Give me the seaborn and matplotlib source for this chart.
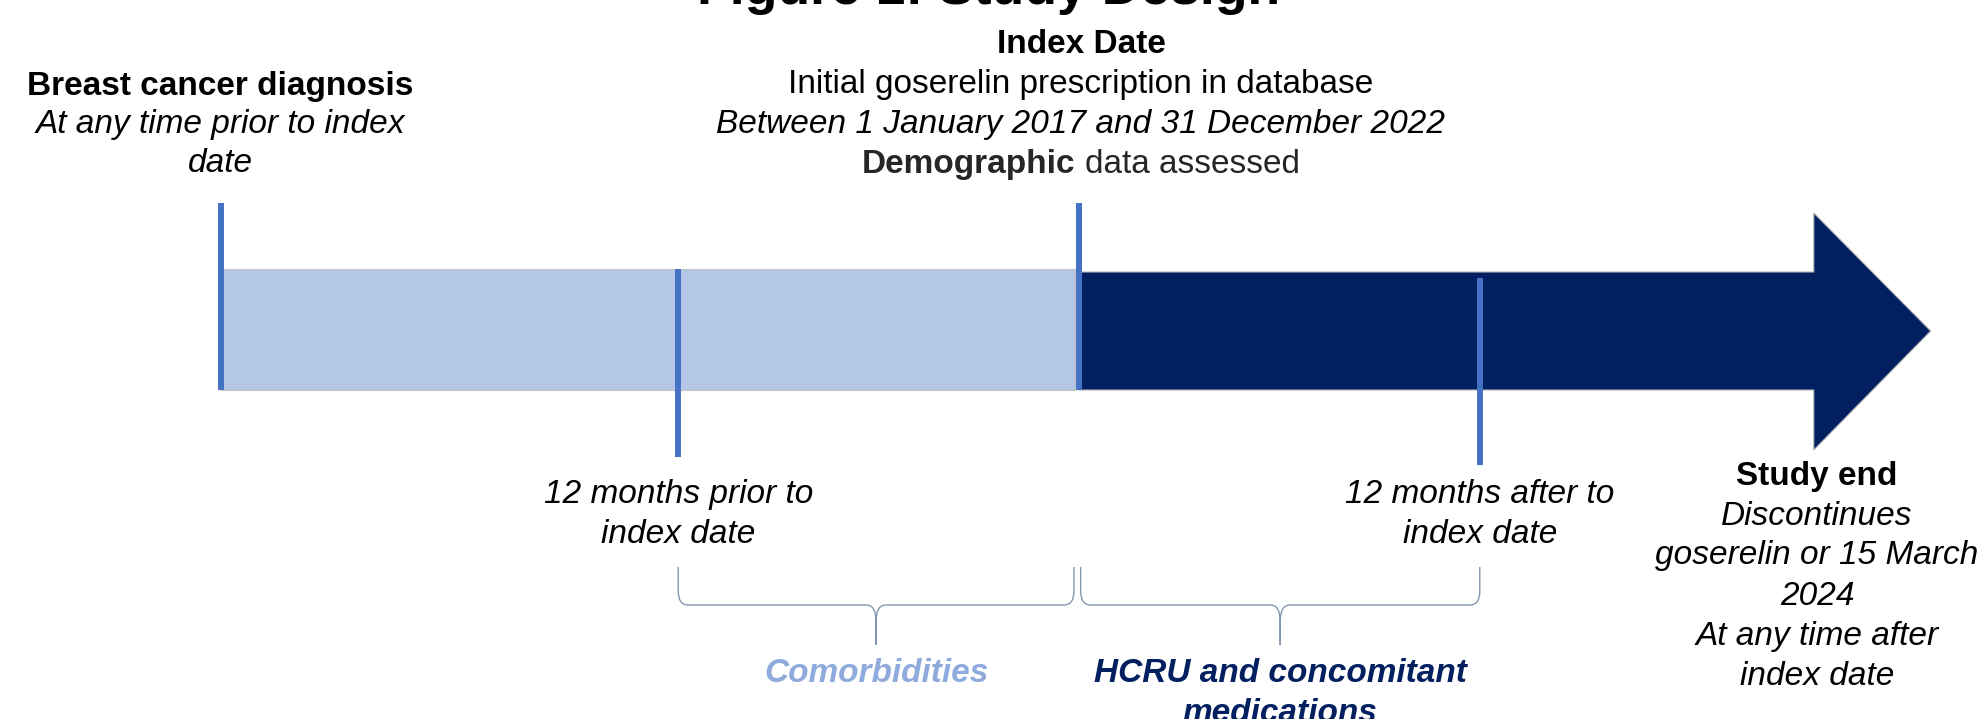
import matplotlib
matplotlib.use("Agg")
import matplotlib.pyplot as plt
import seaborn as sns
from matplotlib.path import Path
from matplotlib.patches import PathPatch, Polygon

# ---------------- data (timeline in months relative to the index date) -------------
event_labels = ["Breast cancer diagnosis", "12 months prior", "Index date", "12 months after"]
event_months = [-25.7, -12, 0, 12]
baseline_period = [-25.7, -0.12]       # light "look-back" bar
followup_start = 0
arrowhead_start = 22.0
arrow_tip = 25.5
study_end_month = 22.1
brace_starts = [-12, 0.05]
brace_ends = [-0.15, 12]
brace_titles = [["Comorbidities"], ["HCRU and concomitant", "medications"]]

title = "Figure 1: Study Design"
diag_lines = ["Breast cancer diagnosis", "At any time prior to index", "date"]
index_lines = ["Index Date", "Initial goserelin prescription in database",
               "Between 1 January 2017 and 31 December 2022"]
demo_bold, demo_rest = "Demographic", "data assessed"
prior_lines = ["12 months prior to", "index date"]
after_lines = ["12 months after to", "index date"]
end_lines = ["Study end", "Discontinues", "goserelin or 15 March", "2024",
             "At any time after", "index date"]

# ---------------- style ----------------
sns.set_theme(style="white")
plt.rcParams["font.family"] = ["Liberation Sans", "DejaVu Sans"]

LIGHT = "#b4c7e7"
DARK = "#022060"
MARK = "#4472c4"
BRACE = "#8497b0"
COMORB = "#8faadc"

W, H = 1978, 719
PX_PER_MONTH = 33.4
INDEX_PX = 1079

fig = plt.figure(figsize=(W / 100, H / 100), dpi=100)
ax = fig.add_axes([0, 0, 1, 1])
ax.set_xlim(-INDEX_PX / PX_PER_MONTH, (W - INDEX_PX) / PX_PER_MONTH)
ax.set_ylim(H, 0)
ax.axis("off")


def m(px):
    """layout helper: convert a horizontal pixel offset to months"""
    return px / PX_PER_MONTH


FS = 24

# light bar (baseline period)
bar_top, bar_bot = 269, 390
ax.barh([(bar_top + bar_bot) / 2], [baseline_period[1] - baseline_period[0]],
        left=baseline_period[0], height=bar_bot - bar_top, color=LIGHT,
        edgecolor="#c3c3c3", linewidth=0.8, zorder=1)

# dark arrow (follow-up period)
body_top, body_bot, head_top, head_bot = 272, 390, 213, 450
tip_y = 331
arrow = Polygon([(followup_start, body_top), (arrowhead_start, body_top),
                 (arrowhead_start, head_top), (arrow_tip, tip_y),
                 (arrowhead_start, head_bot), (arrowhead_start, body_bot),
                 (followup_start, body_bot)], closed=True, facecolor=DARK,
                edgecolor="#b5b5b5", linewidth=0.8, zorder=1)
ax.add_patch(arrow)

# event markers
marker_top = [203, 269, 203, 278]
marker_bot = [390, 457, 390, 465]
ax.vlines(event_months, marker_top, marker_bot, color=MARK, linewidth=4.3, zorder=3)

# braces
y_top, y_mid, y_tip = 567, 605, 645
r = m(10)
for x0, x1 in zip(brace_starts, brace_ends):
    xm = (x0 + x1) / 2
    verts = [(x0, y_top), (x0, y_mid - 14), (x0, y_mid), (x0 + r, y_mid),
             (xm - r, y_mid), (xm, y_mid), (xm, y_mid + 16), (xm, y_tip),
             (xm, y_mid + 16), (xm, y_mid), (xm + r, y_mid),
             (x1 - r, y_mid), (x1, y_mid), (x1, y_mid - 14), (x1, y_top)]
    codes = [Path.MOVETO, Path.LINETO, Path.CURVE3, Path.CURVE3,
             Path.LINETO, Path.CURVE3, Path.CURVE3, Path.LINETO,
             Path.LINETO, Path.CURVE3, Path.CURVE3,
             Path.LINETO, Path.CURVE3, Path.CURVE3, Path.LINETO]
    ax.add_patch(PathPatch(Path(verts, codes), facecolor="none",
                           edgecolor=BRACE, linewidth=1.0, zorder=2))

brace_colors = [COMORB, DARK]
for x0, x1, lines, col in zip(brace_starts, brace_ends, brace_titles, brace_colors):
    xm = (x0 + x1) / 2
    for i, t in enumerate(lines):
        ax.text(xm, 682 + 40 * i, t, ha="center", va="baseline", fontsize=FS,
                fontweight="bold", fontstyle="italic", color=col)


def block(x, baselines, lines, styles):
    for yb, t, st in zip(baselines, lines, styles):
        kw = {}
        if st == "b":
            kw["fontweight"] = "bold"
        elif st == "i":
            kw["fontstyle"] = "italic"
        ax.text(x, yb, t, ha="center", va="baseline", fontsize=FS, color="black", **kw)


# title (partly cut off at the top, as in the original)
ax.text(m(989 - INDEX_PX), 4, title, ha="center", va="baseline", fontsize=38.5,
        fontweight="bold", color="black")

block(event_months[0], [95, 133, 172], diag_lines, ["b", "i", "i"])
block(event_months[2] + m(2), [53, 93, 133], index_lines, ["b", "n", "i"])
block(event_months[1], [503, 543], prior_lines, ["i", "i"])
block(event_months[3], [503, 543], after_lines, ["i", "i"])
block(study_end_month, [485, 525, 564, 605, 645, 685], end_lines,
      ["b", "i", "i", "i", "i", "i"])

# mixed bold / regular line
t1 = ax.text(0, 173, demo_bold, ha="left", va="baseline", fontsize=FS, fontweight="bold")
t2 = ax.text(0, 173, demo_rest, ha="left", va="baseline", fontsize=FS)
fig.canvas.draw()
rend = fig.canvas.get_renderer()
w1 = t1.get_window_extent(rend).width
w2 = t2.get_window_extent(rend).width
gap = 0.278 * FS * 100 / 72
total = w1 + gap + w2
center_px = INDEX_PX + 2
start_px = center_px - total / 2
t1.set_x(m(start_px - INDEX_PX))
t2.set_x(m(start_px + w1 + gap - INDEX_PX))

fig.savefig("out.png", dpi=100, facecolor="white")
